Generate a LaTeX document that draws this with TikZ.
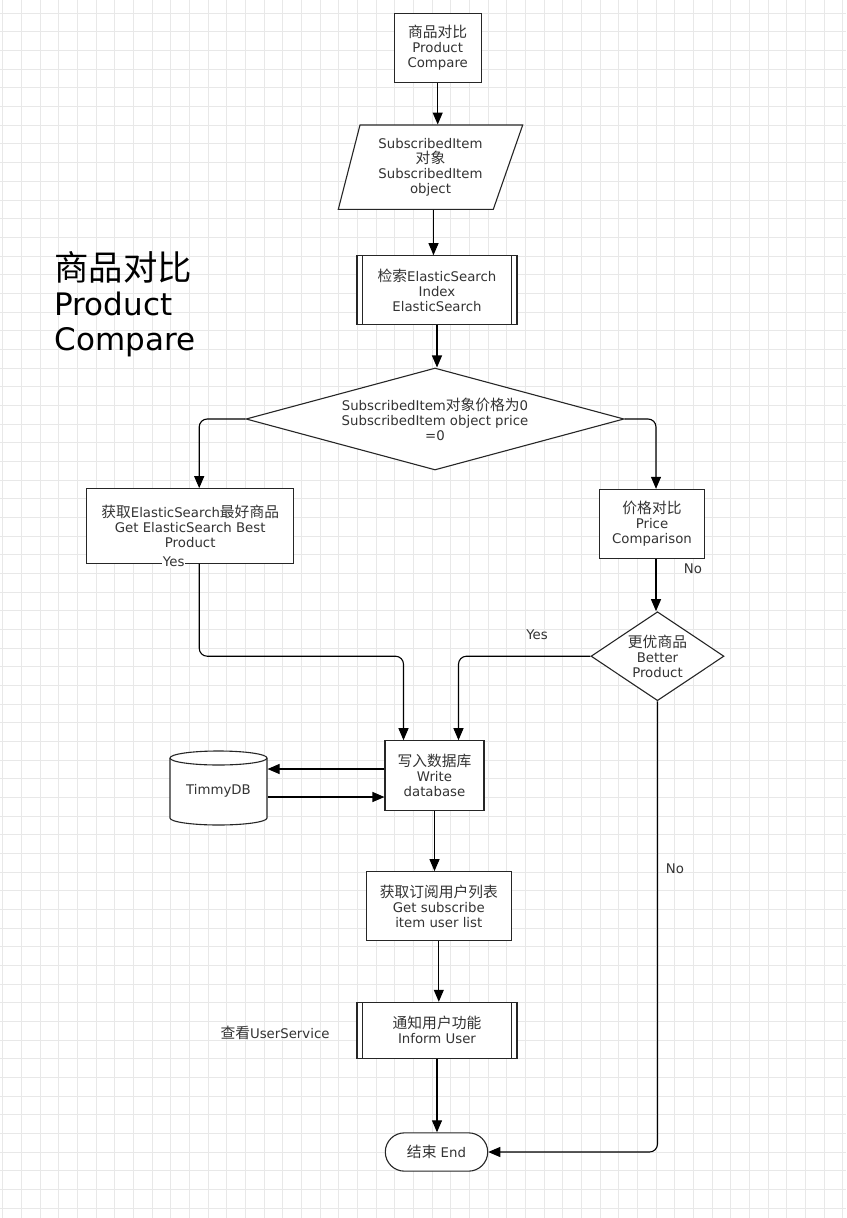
\documentclass[tikz,border=0pt]{standalone}
\usepackage{fontspec}
\setmainfont{DejaVu Sans}
\newfontfamily\cjk[Scale=1.11]{Noto Sans CJK SC}
\newcommand{\zh}[1]{{\cjk #1}}
\usetikzlibrary{arrows.meta,shapes.geometric,shapes.misc}

\begin{document}
\begin{tikzpicture}[x=1pt, y=-1pt, line width=1.1pt,
    box/.style={draw=black!85, fill=white, align=center, inner sep=0pt, text=black!80, font=\fontsize{13.3}{15}\selectfont},
    sub/.style={box, path picture={
        \draw[line width=1pt] ([xshift=5.5pt]path picture bounding box.north west) -- ([xshift=5.5pt]path picture bounding box.south west);
        \draw[line width=1pt] ([xshift=-5.5pt]path picture bounding box.north east) -- ([xshift=-5.5pt]path picture bounding box.south east);}},
    choice/.style={box, shape=diamond},
    arr/.style={-{Triangle[length=12pt, width=10pt]}, line width=1.1pt, rounded corners=8pt},
    tag/.style={text=black!80, font=\fontsize{13.3}{15}\selectfont, inner sep=1pt}]

    \useasboundingbox (0,0) rectangle (846,1218);
    \fill[white] (0,0) rectangle (846,1218);

    % draw grid
    \foreach \i in {0,...,45}
        \draw[black!9, line width=1pt] ({2.7+18.67*\i},0) -- ({2.7+18.67*\i},1218);
    \foreach \j in {0,...,64}
        \draw[black!9, line width=1pt] (0,{13.3+18.67*\j}) -- (846,{13.3+18.67*\j});

    % draw title
    \node[anchor=north west, align=left, inner sep=0pt, font=\fontsize{31}{35}\selectfont] (title) at (54,250.5) {\zh{商品对比}\\Product\\Compare};

    % draw steps
    \node[box, minimum width=87.3pt, minimum height=68.7pt] (start) at (437.7,47.7) {\zh{商品对比}\\Product\\Compare};

    \draw[black!85, fill=white] (360,125) -- (522.7,125) -- (493.3,209.3) -- (338.3,209.3) -- cycle;
    \node[box, draw=none, fill=none, minimum width=184.4pt, minimum height=84.3pt] (io) at (430.5,167.2) {SubscribedItem\\\zh{对象}\\SubscribedItem\\object};

    \node[sub, minimum width=160pt, minimum height=68.6pt] (idx) at (437,290) {\zh{检索}ElasticSearch\\Index\\ElasticSearch};
    \node[choice, aspect=3.7, minimum width=378pt, minimum height=102pt] (dec) at (435,419) {SubscribedItem\zh{对象价格为}0\\SubscribedItem object price\\=0};
    \node[box, minimum width=207pt, minimum height=74.6pt] (best) at (190.2,526) {\zh{获取}ElasticSearch\zh{最好商品}\\Get ElasticSearch Best\\Product};
    \node[box, minimum width=105.4pt, minimum height=68.7pt] (price) at (652,523.7) {\zh{价格对比}\\Price\\Comparison};
    \node[choice, aspect=1.5, minimum width=133pt, minimum height=89pt] (better) at (657.5,656.2) {\zh{更优商品}\\Better\\Product};
    \node[box, minimum width=99pt, minimum height=69.5pt] (write) at (434.5,775.5) {\zh{写入数据库}\\Write\\database};

    % draw database cylinder
    \draw[black!85, fill=white] (170,758) -- (170,818) arc[start angle=180, end angle=360, x radius=48.5pt, y radius=7pt]
        -- (267,758) arc[start angle=0, end angle=180, x radius=48.5pt, y radius=7pt] -- cycle;
    \draw[black!85] (170,758) arc[start angle=180, end angle=360, x radius=48.5pt, y radius=7pt];
    \node[tag, minimum width=97pt, minimum height=67pt, inner sep=0pt] (db) at (218.5,791) {TimmyDB};

    \node[box, minimum width=145pt, minimum height=68.6pt] (list) at (438.8,906) {\zh{获取订阅用户列表}\\Get subscribe\\item user list};
    \node[sub, minimum width=160pt, minimum height=56pt] (inform) at (437,1030.3) {\zh{通知用户功能}\\Inform User};
    \node[box, rounded rectangle, minimum width=102.4pt, minimum height=38.3pt] (end) at (436.5,1152) {\zh{结束} End};
    \node[tag] (note) at (275,1033) {\zh{查看}UserService};

    % draw arrows
    \draw[arr] (start.south) -- (start.south |- io.north);
    \draw[arr] ([xshift=3pt]io.south) -- ([xshift=3pt]io.south |- idx.north);
    \draw[arr] (idx.south) -- (idx.south |- dec.north);
    \draw[arr] (dec.west) -| ([xshift=9pt]best.north);
    \draw[arr] (dec.east) -| ([xshift=4pt]price.north);
    \draw[arr] ([xshift=9pt]best.south) |- ([xshift=-31pt]write.north |- better.west) -- ([xshift=-31pt]write.north);
    \draw[arr] ([xshift=4pt]price.south) -- ([xshift=4pt]price.south |- better.north);
    \draw[arr] (better.west) -| ([xshift=24pt]write.north);
    \draw[arr] (better.south) |- (end.east);
    \draw[arr] ([yshift=6.5pt]write.west) -- ([yshift=6.5pt]write.west -| db.east);
    \draw[arr] ([yshift=-21.5pt]write.west -| db.east) -- ([yshift=-21.5pt]write.west);
    \draw[arr] (write.south) -- (write.south |- list.north);
    \draw[arr] (list.south) -- (list.south |- inform.north);
    \draw[arr] (inform.south) -- (inform.south |- end.north);

    % draw labels
    \node[tag, fill=white] (yesa) at (173.7,562) {Yes};
    \node[tag] (yesb) at (537,635) {Yes};
    \node[tag] (noa) at (693,569) {No};
    \node[tag] (nob) at (675,869) {No};

\end{tikzpicture}
\end{document}
